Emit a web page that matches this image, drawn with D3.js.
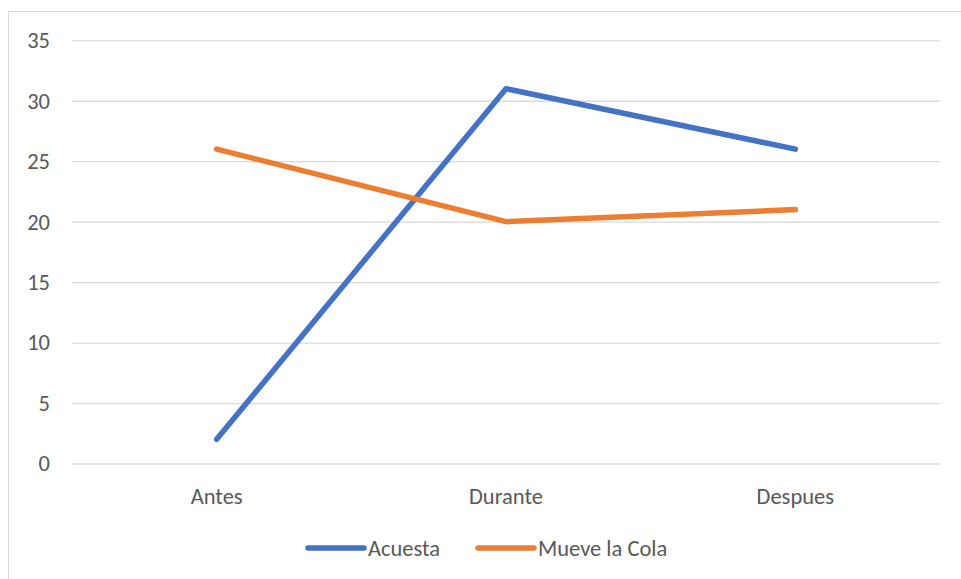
<!DOCTYPE html>
<html>
<head>
<meta charset="utf-8">
<script src="https://cdn.jsdelivr.net/npm/d3@7"></script>
<style>
  html, body { margin: 0; padding: 0; background: #ffffff; }
  svg { display: block; }
  text { font-family: Carlito, Calibri, "Open Sans", sans-serif; fill: #595959; }
</style>
</head>
<body>
<svg id="chart" width="961" height="579"></svg>
<script>
// Categories and series
const categories = ["Antes", "Durante", "Despues"];
const acuesta = [2, 31, 26];
const mueveLaCola = [26, 20, 21];
const yTicks = [0, 5, 10, 15, 20, 25, 30, 35];
const seriesNames = ["Acuesta", "Mueve la Cola"];
const seriesColors = ["#4472C4", "#ED7D31"];

const svg = d3.select("#chart");
const W = 961, H = 579;
const plot = { left: 72, right: 940, top: 40.3, bottom: 463.5 };
const fontSize = "22.5px";

// Chart-area frame
svg.append("rect")
  .attr("x", 8.5).attr("y", 11.5)
  .attr("width", W + 10).attr("height", H + 10)
  .attr("fill", "#ffffff")
  .attr("stroke", "#D9D9D9").attr("stroke-width", 1);

const x = d3.scaleBand().domain(categories).range([plot.left, plot.right]);
const y = d3.scaleLinear().domain([0, 35]).range([plot.bottom, plot.top]);
const cx = c => x(c) + x.bandwidth() / 2;

// Horizontal gridlines
svg.append("g")
  .attr("transform", `translate(${plot.left},0)`)
  .call(d3.axisLeft(y).tickValues(yTicks).tickSize(-(plot.right - plot.left)).tickFormat(""))
  .call(g => g.select(".domain").remove())
  .call(g => g.selectAll("line").attr("stroke", "#D9D9D9").attr("stroke-width", 1.3));

// Y tick labels
svg.append("g")
  .selectAll("text")
  .data(yTicks)
  .join("text")
  .attr("x", 50)
  .attr("y", d => y(d))
  .attr("dy", "0.35em")
  .attr("text-anchor", "end")
  .style("font-size", fontSize)
  .text(d => d);

// X category labels
svg.append("g")
  .selectAll("text")
  .data(categories)
  .join("text")
  .attr("x", d => cx(d))
  .attr("y", 496)
  .attr("dy", "0.35em")
  .attr("text-anchor", "middle")
  .style("font-size", fontSize)
  .text(d => d);

// Series lines
const series = [acuesta, mueveLaCola];
const line = d3.line()
  .x((d, i) => cx(categories[i]))
  .y(d => y(d));

svg.append("g")
  .selectAll("path")
  .data(series)
  .join("path")
  .attr("d", d => line(d))
  .attr("fill", "none")
  .attr("stroke", (d, i) => seriesColors[i])
  .attr("stroke-width", 5.5)
  .attr("stroke-linecap", "round")
  .attr("stroke-linejoin", "round");

// Legend
const legendItems = [
  { name: seriesNames[0], color: seriesColors[0], x0: 308 },
  { name: seriesNames[1], color: seriesColors[1], x0: 478 }
];
const legendY = 548;
const lg = svg.append("g");
legendItems.forEach(it => {
  lg.append("line")
    .attr("x1", it.x0).attr("x2", it.x0 + 56)
    .attr("y1", legendY).attr("y2", legendY)
    .attr("stroke", it.color).attr("stroke-width", 5.5)
    .attr("stroke-linecap", "round");
  lg.append("text")
    .attr("x", it.x0 + 60)
    .attr("y", legendY)
    .attr("dy", "0.35em")
    .style("font-size", fontSize)
    .text(it.name);
});
</script>
</body>
</html>
